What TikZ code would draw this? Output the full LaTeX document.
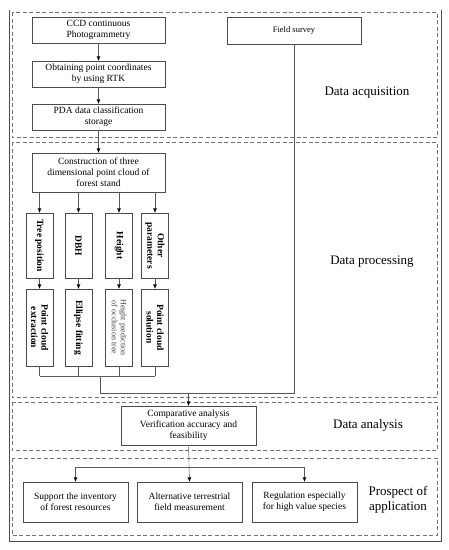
\documentclass[tikz,border=0pt]{standalone}
\usepackage{fontspec}
\setmainfont{Liberation Serif}
\usetikzlibrary{arrows.meta}

\tikzset{
  stepbox/.style={draw=black!70, align=center, inner sep=1pt,
    font=\fontsize{9.5}{11}\selectfont},
  colbox/.style={draw=black!70, align=center, inner sep=1pt, rotate=-90,
    minimum height=27pt, font=\fontsize{9.5}{10.5}\selectfont\bfseries},
  notebox/.style={colbox, text=black!75, font=\fontsize{8}{9}\selectfont},
  panel/.style={draw=black!55, dash pattern=on 4pt off 2.5pt},
  stage/.style={font=\fontsize{13}{15}\selectfont, align=center},
  link/.style={draw=black!65},
  arr/.style={draw=black!65, -{Latex[length=4.5pt,width=4pt,fill=black,color=black]}}
}

\begin{document}
\begin{tikzpicture}[x=1pt,y=-1pt]
  \useasboundingbox (0,0) rectangle (449,550);
  % frame and panels
  \path[draw,black!70,thick] (9,10) -- (9,541) -- (441,541) -- (441,10);
  \path[panel] (12,12) rectangle (437,137);
  \path[panel] (12,142) rectangle (437,397);
  \path[panel] (12,402) rectangle (437,450);
  \path[panel] (12,458) rectangle (437,535);

  % data acquisition
  \node[stepbox, minimum width=133pt, minimum height=26pt] (ccd) at (98.5,30)
    {CCD continuous\\Photogrammetry};
  \node[stepbox, minimum width=133pt, minimum height=26pt] (rtk) at (98.5,74)
    {Obtaining point coordinates\\by using RTK};
  \node[stepbox, minimum width=133pt, minimum height=26pt] (pda) at (98.5,117)
    {PDA data classification\\storage};
  \node[stepbox, minimum width=134pt, minimum height=27pt,
    font=\fontsize{8.5}{10}\selectfont] (field) at (294,30.5) {Field survey};
  \node[stage] (acq) at (367,93) {Data acquisition};

  % data processing
  \node[stepbox, minimum width=133pt, minimum height=39pt] (cons) at (98.5,172.5)
    {Construction of three\\dimensional point cloud of\\forest stand};
  \node[stage] (proc) at (372,262) {Data processing};

  \foreach \i/\xcol/\ttxt/\bsty/\btxt in {
      1/39.5/Tree position/colbox/Point cloud\\extraction,
      2/78.5/DBH/colbox/Ellipse fitting,
      3/119/Height/notebox/Height prediction\\of occlusion tree,
      4/155/Other\\parameters/colbox/Point cloud\\solution} {
    \node[colbox, minimum width=65pt] (t\i) at (\xcol,245.5) {\ttxt};
    \node[\bsty, minimum width=77pt] (b\i) at (\xcol,327.5) {\btxt};
    \path[arr] (t\i.west |- cons.south) -- (t\i.west);
    \path[arr] (t\i.east) -- (b\i.west);
    \path[link] (b\i.east) -- (b\i.east |- 0,376);
  }
  \coordinate (merge) at (100,376);
  \coordinate (join) at (100,393);
  \path[link] (b1.east |- merge) -- (b4.east |- merge);
  \path[link] (merge) -- (join) -- (join -| field.south) -- (field.south);

  % data analysis
  \node[stepbox, minimum width=135pt, minimum height=39pt] (compare) at (188.5,425.5)
    {Comparative analysis\\Verification accuracy and\\feasibility};
  \node[stage] (ana) at (368,425) {Data analysis};
  \path[arr] (join -| compare.north) -- (compare.north);
  \path[arr] (ccd) -- (rtk);
  \path[arr] (rtk) -- (pda);
  \path[arr] (pda) -- (cons);

  % prospect of application
  \node[stepbox, minimum width=105pt, minimum height=40pt] (support) at (75.5,502)
    {Support the inventory\\of forest resources};
  \node[stepbox, minimum width=105pt, minimum height=40pt] (alt) at (189.5,502)
    {Alternative terrestrial\\field measurement};
  \node[stepbox, minimum width=105pt, minimum height=40pt] (reg) at (304.5,502)
    {Regulation especially\\for high value species};
  \node[stage] (pros) at (398,500) {Prospect of\\application};
  \coordinate (fork) at (compare.south |- 0,467);
  \path[arr] (compare.south) -- (alt.north);
  \path[arr] (fork) -| (support.north);
  \path[arr] (fork) -| (reg.north);
\end{tikzpicture}
\end{document}
